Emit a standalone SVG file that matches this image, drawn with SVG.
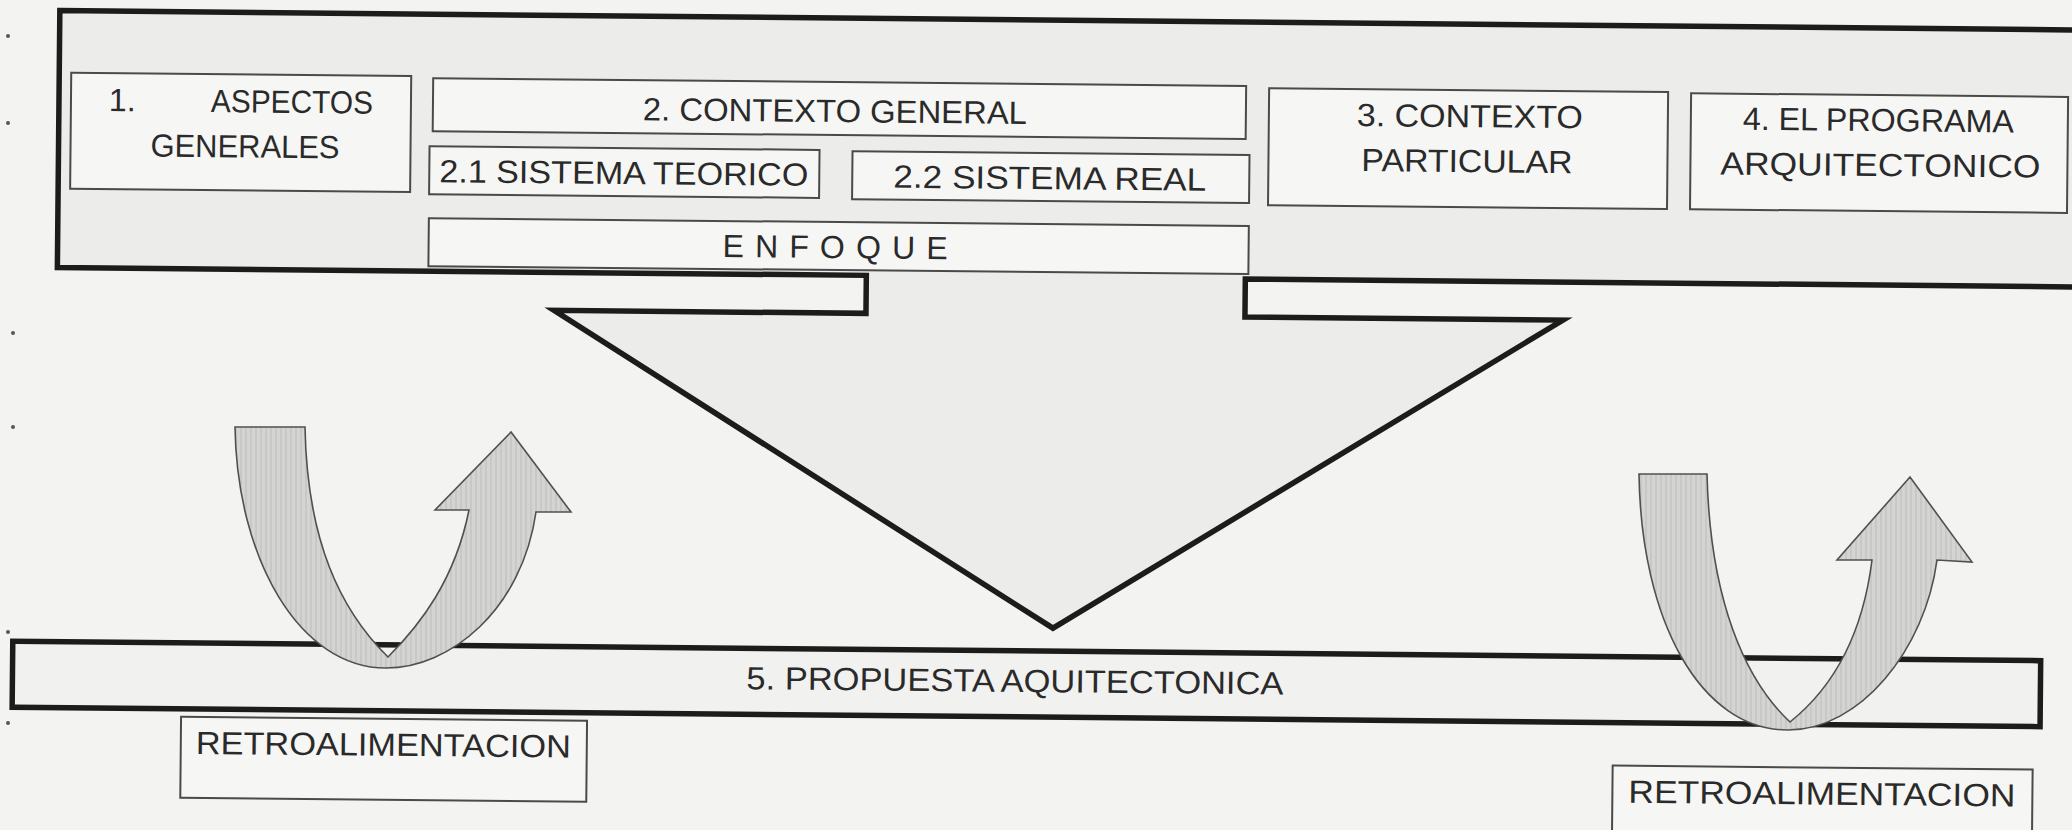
<svg xmlns="http://www.w3.org/2000/svg" width="2072" height="830" viewBox="0 0 2072 830">
<defs>
<style>
.frame{fill:#ececea;stroke:#1c1c1c;stroke-width:5.5;stroke-linejoin:miter}
.bar{fill:#f1f1ef;stroke:#1c1c1c;stroke-width:5.5}
.box{fill:#f6f6f4;stroke:#4a4a4a;stroke-width:2}
.t{font-family:"Liberation Sans",Arial,sans-serif;font-size:32px;fill:#2a2a2a}
.uarrow{fill:url(#hatch);stroke:#505050;stroke-width:1.6;stroke-linejoin:miter}
.dot{fill:#555}
</style>
<pattern id="hatch" width="5" height="10" patternUnits="userSpaceOnUse">
<rect width="5" height="10" fill="#d4d4d3"/>
<line x1="1" y1="0" x2="1" y2="10" stroke="#bcbcbc" stroke-width="1"/>
</pattern>
</defs>
<rect width="2072" height="830" fill="#f3f3f1"/>
<g id="margin-dots">
<circle class="dot" cx="8" cy="36" r="2"/>
<circle class="dot" cx="8" cy="123" r="2"/>
<circle class="dot" cx="13" cy="333" r="2"/>
<circle class="dot" cx="13" cy="427" r="2"/>
<circle class="dot" cx="8" cy="632" r="2"/>
<circle class="dot" cx="8" cy="723" r="2"/>
</g>
<g transform="rotate(0.55 1036 415)">
<g id="frame">
<path class="frame" d="M56,20 L2095,20 L2095,277 L1244,277 L1244,315 L1562,315 L1055,628 L553,315 L865,315 L865,277 L56,277 Z"/>
</g>
<g id="n1">
<rect class="box" x="68" y="82" width="340" height="116"/>
<text class="t" x="106" y="120">1.</text>
<text class="t" x="208" y="120" textLength="162" lengthAdjust="spacingAndGlyphs">ASPECTOS</text>
<text class="t" x="148" y="165" textLength="189" lengthAdjust="spacingAndGlyphs">GENERALES</text>
</g>
<g id="n2">
<rect class="box" x="430" y="84" width="813" height="53"/>
<text class="t" x="640" y="124" textLength="384" lengthAdjust="spacingAndGlyphs">2. CONTEXTO GENERAL</text>
</g>
<g id="n21">
<rect class="box" x="427" y="152" width="390" height="48"/>
<text class="t" x="437" y="188" textLength="369" lengthAdjust="spacingAndGlyphs">2.1 SISTEMA TEORICO</text>
</g>
<g id="n22">
<rect class="box" x="850" y="153" width="397" height="48"/>
<text class="t" x="891" y="189" textLength="313" lengthAdjust="spacingAndGlyphs">2.2 SISTEMA REAL</text>
</g>
<g id="enfoque">
<rect class="box" x="427" y="224" width="820" height="48"/>
<text class="t" x="721" y="260" font-size="30" textLength="225" lengthAdjust="spacing">ENFOQUE</text>
</g>
<g id="n3">
<rect class="box" x="1266" y="86" width="399" height="117"/>
<text class="t" x="1354" y="123" textLength="226" lengthAdjust="spacingAndGlyphs">3. CONTEXTO</text>
<text class="t" x="1359" y="168" textLength="211" lengthAdjust="spacingAndGlyphs">PARTICULAR</text>
</g>
<g id="n4">
<rect class="box" x="1688" y="87" width="377" height="116"/>
<text class="t" x="1740" y="123" textLength="271" lengthAdjust="spacingAndGlyphs">4. EL PROGRAMA</text>
<text class="t" x="1718" y="168" textLength="320" lengthAdjust="spacingAndGlyphs">ARQUITECTONICO</text>
</g>
<g id="n5">
<rect class="bar" x="15" y="651" width="2028" height="66"/>
<text class="t" x="749" y="692" font-size="30" textLength="537" lengthAdjust="spacingAndGlyphs">5. PROPUESTA AQUITECTONICA</text>
</g>
<g id="retro-left">
<rect class="box" x="184" y="725" width="406" height="81"/>
<text class="t" x="199" y="762" textLength="375" lengthAdjust="spacingAndGlyphs">RETROALIMENTACION</text>
</g>
<g id="retro-right">
<rect class="box" x="1616" y="760" width="420" height="81"/>
<text class="t" x="1632" y="797" textLength="387" lengthAdjust="spacingAndGlyphs">RETROALIMENTACION</text>
</g>
</g>
<g id="connectors">
<path class="uarrow" d="M235,427 L305,427 C307,540 340,610 388,657 C420,625 455,580 469,510 L435,510 L511,432 L571,512 L536,512 C522,610 450,668 386,668 C300,668 237,560 235,427 Z"/>
<path class="uarrow" d="M1639,474 L1707,474 C1710,600 1745,680 1790,722 C1830,690 1862,640 1872,560 L1837,560 L1910,477 L1972,562 L1937,560 C1925,650 1860,730 1788,730 C1700,730 1641,620 1639,474 Z"/>
</g>
</svg>
